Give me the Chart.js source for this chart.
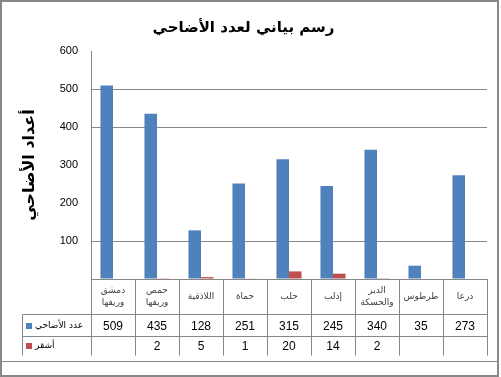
<!DOCTYPE html>
<html lang="ar">
<head>
    <meta charset="UTF-8">
    <title>رسم بياني لعدد الأضاحي</title>
    <script src="https://cdn.jsdelivr.net/npm/chart.js@4"></script>
    <style>
        body {
            margin: 0;
            background-color: #ffffff;
        }
        #chartBox {
            width: 501px;
            height: 377px;
        }
    </style>
</head>
<body>
    <div id="chartBox">
        <canvas id="sacrificeChart" width="501" height="377"></canvas>
    </div>
    <script>
        // chart data
        const categories = [
            ['دمشق', 'وريفها'],
            ['حمص', 'وريفها'],
            ['اللاذقية'],
            ['حماة'],
            ['حلب'],
            ['إدلب'],
            ['الدير', 'والحسكة'],
            ['طرطوس'],
            ['درعا']
        ];
        const seriesNames = ['عدد الأضاحي', 'أشقر'];
        const sacrifices = [509, 435, 128, 251, 315, 245, 340, 35, 273];
        const blond = [null, 2, 5, 1, 20, 14, 2, null, null];
        const yTicks = [0, 100, 200, 300, 400, 500, 600];
        const gridShown = [100, 400, 500];

        const seriesColors = ['#4F81BD', '#C0504D'];
        const lineGray = '#878787';
        const arabicFont = "'DejaVu Sans', sans-serif";

        // draws the frame and the data table under the plot
        const dataTable = {
            id: 'dataTable',
            afterDraw(chart) {
                const ctx = chart.ctx;
                const xs = chart.scales.x;
                const area = chart.chartArea;
                const n = categories.length;
                const colW = xs.getPixelForValue(1) - xs.getPixelForValue(0);
                const edges = [];
                for (let i = 0; i <= n; i++) {
                    edges.push(Math.round(xs.getPixelForValue(0) - colW / 2 + i * colW) + 0.5);
                }
                const top = area.bottom;
                const headBottom = top + 35.5;
                const row1Bottom = headBottom + 22;
                const tableBottom = row1Bottom + 19;
                const legendLeft = 22.5;
                const rowsData = [sacrifices, blond];

                ctx.save();
                // outer frame
                ctx.strokeStyle = lineGray;
                ctx.lineWidth = 2;
                ctx.strokeRect(1, 1, 497, 375);
                ctx.lineWidth = 1;
                ctx.beginPath();
                ctx.moveTo(1, 361.5);
                ctx.lineTo(498, 361.5);
                ctx.stroke();

                // table grid
                ctx.beginPath();
                edges.forEach(x => {
                    ctx.moveTo(x, top);
                    ctx.lineTo(x, tableBottom);
                });
                ctx.moveTo(legendLeft, headBottom);
                ctx.lineTo(legendLeft, tableBottom);
                ctx.moveTo(legendLeft, headBottom);
                ctx.lineTo(edges[n], headBottom);
                ctx.moveTo(legendLeft, row1Bottom);
                ctx.lineTo(edges[n], row1Bottom);
                ctx.stroke();

                // category labels
                ctx.textAlign = 'center';
                ctx.textBaseline = 'middle';
                ctx.fillStyle = '#404040';
                ctx.font = '9px ' + arabicFont;
                const headMid = (top + headBottom) / 2;
                categories.forEach((lines, i) => {
                    const cx = xs.getPixelForValue(i);
                    lines.forEach((line, j) => {
                        const y = headMid + (j - (lines.length - 1) / 2) * 12;
                        ctx.fillText(line, cx, y);
                    });
                });

                // values
                ctx.fillStyle = '#000';
                ctx.font = "12px 'Liberation Sans Narrow', 'Liberation Sans', sans-serif";
                const rowMids = [(headBottom + row1Bottom) / 2, (row1Bottom + tableBottom) / 2];
                rowsData.forEach((vals, r) => {
                    vals.forEach((v, i) => {
                        if (v === null) return;
                        ctx.fillText(String(v), xs.getPixelForValue(i), rowMids[r] + 1);
                    });
                });

                // legend keys
                ctx.textAlign = 'left';
                ctx.font = '9px ' + arabicFont;
                seriesNames.forEach((name, r) => {
                    ctx.fillStyle = seriesColors[r];
                    ctx.fillRect(26, Math.round(rowMids[r] - 3), 6, 6);
                    ctx.fillStyle = '#000';
                    ctx.fillText(name, 35, rowMids[r]);
                });
                ctx.restore();
            }
        };

        const ctx = document.getElementById('sacrificeChart').getContext('2d');
        new Chart(ctx, {
            type: 'bar',
            data: {
                labels: categories,
                datasets: [{
                    label: seriesNames[0],
                    data: sacrifices,
                    backgroundColor: seriesColors[0]
                }, {
                    label: seriesNames[1],
                    data: blond,
                    backgroundColor: seriesColors[1]
                }]
            },
            options: {
                responsive: false,
                animation: false,
                layout: {
                    padding: { left: 0, right: 14, top: 0, bottom: 0 }
                },
                datasets: {
                    bar: {
                        categoryPercentage: 0.57,
                        barPercentage: 1
                    }
                },
                plugins: {
                    legend: { display: false },
                    tooltip: { enabled: false },
                    title: {
                        display: true,
                        text: 'رسم بياني لعدد الأضاحي',
                        color: '#000',
                        font: { family: arabicFont, size: 15, weight: 'bold' },
                        padding: { top: 19, bottom: 14 }
                    }
                },
                scales: {
                    x: {
                        ticks: { display: false },
                        grid: { display: false },
                        border: { color: lineGray },
                        afterFit: s => { s.height = 98; }
                    },
                    y: {
                        min: yTicks[0],
                        max: yTicks[yTicks.length - 1],
                        ticks: {
                            stepSize: 100,
                            padding: 13,
                            color: '#000',
                            font: { family: "'Liberation Sans', sans-serif", size: 11 },
                            callback: v => v === 0 ? '' : v
                        },
                        grid: {
                            drawTicks: false,
                            color: c => gridShown.includes(c.tick.value) ? lineGray : 'rgba(0,0,0,0)'
                        },
                        border: { color: lineGray },
                        title: {
                            display: true,
                            text: 'أعداد الأضاحي',
                            color: '#000',
                            font: { family: arabicFont, size: 16, weight: 'bold' },
                            padding: { top: 20 }
                        },
                        afterFit: s => { s.width = 91; }
                    }
                }
            },
            plugins: [dataTable]
        });
    </script>
</body>
</html>
